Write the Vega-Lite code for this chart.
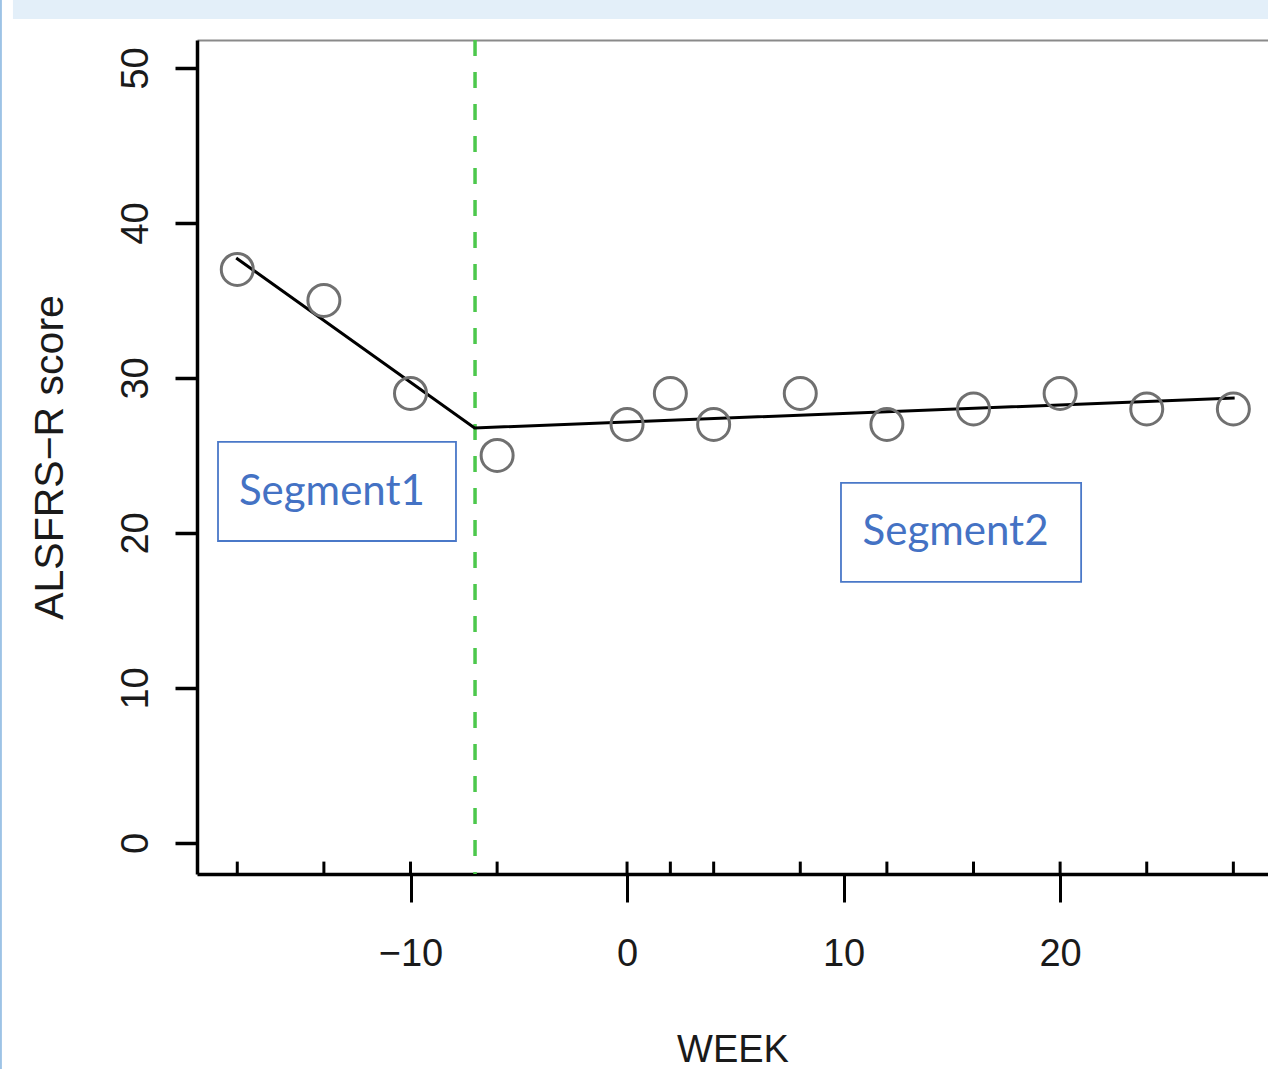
{
  "$schema": "https://vega.github.io/schema/vega-lite/v6.json",
  "width": 1071,
  "height": 834,
  "autosize": {"type": "none"},
  "padding": {"left": 197, "top": 40, "right": 0, "bottom": 195},
  "background": "white",
  "config": {
    "view": {"stroke": null},
    "axis": {
      "labelFont": "Liberation Sans",
      "titleFont": "Liberation Sans",
      "labelFontSize": 38,
      "titleFontSize": 38,
      "labelColor": "#1a1a1a",
      "titleColor": "#1a1a1a",
      "titleFontWeight": "normal",
      "grid": false
    }
  },
  "datasets": {
    "obs": [
      {"week": -18, "score": 37},
      {"week": -14, "score": 35},
      {"week": -10, "score": 29},
      {"week": -6, "score": 25},
      {"week": 0, "score": 27},
      {"week": 2, "score": 29},
      {"week": 4, "score": 27},
      {"week": 8, "score": 29},
      {"week": 12, "score": 27},
      {"week": 16, "score": 28},
      {"week": 20, "score": 29},
      {"week": 24, "score": 28},
      {"week": 28, "score": 28}
    ],
    "fit": [
      {"week": -18.05, "score": 37.74},
      {"week": -7.04, "score": 26.77},
      {"week": 28.06, "score": 28.7}
    ],
    "breaks": [{"breakpoint": -7.02}],
    "boxes": [
      {"label": "Segment1", "x1": -18.89, "x2": -7.9, "y1": 25.87, "y2": 19.48, "xc": -13.63, "yc": 22.65},
      {"label": "Segment2", "x1": 9.88, "x2": 20.97, "y1": 23.23, "y2": 16.84, "xc": 15.17, "yc": 20.06}
    ],
    "frame": [{}]
  },
  "resolve": {"axis": {"x": "independent", "y": "independent"}},
  "layer": [
    {
      "data": {"name": "frame"},
      "mark": {"type": "rect", "color": "#E3EFF9"},
      "encoding": {
        "x": {"datum": -28.36, "type": "quantitative", "scale": {"domain": [-19.86, 29.6], "nice": false, "zero": false}, "axis": null},
        "x2": {"datum": 29.6},
        "y": {"datum": 54.39, "type": "quantitative", "scale": {"domain": [-2, 51.8], "nice": false, "zero": false}, "axis": null},
        "y2": {"datum": 53.16}
      }
    },
    {
      "data": {"name": "frame"},
      "mark": {"type": "rect", "color": "#9DC3E6"},
      "encoding": {
        "x": {"datum": -28.96, "type": "quantitative", "scale": {"domain": [-19.86, 29.6], "nice": false, "zero": false}, "axis": null},
        "x2": {"datum": -28.87},
        "y": {"datum": 54.39, "type": "quantitative", "scale": {"domain": [-2, 51.8], "nice": false, "zero": false}, "axis": null},
        "y2": {"datum": -14.6}
      }
    },
    {
      "data": {"name": "breaks"},
      "mark": {"type": "rule", "color": "#4CC84C", "strokeWidth": 3.5, "strokeDash": [16, 16]},
      "encoding": {
        "x": {"field": "breakpoint", "type": "quantitative", "scale": {"domain": [-19.86, 29.6], "nice": false, "zero": false}, "axis": null}
      }
    },
    {
      "data": {"name": "fit"},
      "mark": {"type": "line", "color": "#000000", "strokeWidth": 3},
      "encoding": {
        "x": {"field": "week", "type": "quantitative", "scale": {"domain": [-19.86, 29.6], "nice": false, "zero": false}, "axis": null},
        "y": {"field": "score", "type": "quantitative", "scale": {"domain": [-2, 51.8], "nice": false, "zero": false}, "axis": null}
      }
    },
    {
      "data": {"name": "obs"},
      "mark": {"type": "point", "shape": "circle", "filled": false, "stroke": "#707070", "strokeWidth": 3, "size": 1024, "opacity": 1},
      "encoding": {
        "x": {
          "field": "week", "type": "quantitative",
          "scale": {"domain": [-19.86, 29.6], "nice": false, "zero": false},
          "axis": {
            "values": [-10, 0, 10, 20],
            "tickSize": 28, "tickWidth": 3, "tickColor": "#000000",
            "domainColor": "#000000", "domainWidth": 3.5,
            "labelPadding": 33, "labelFlush": false, "labelOverlap": false,
            "title": "WEEK", "titlePadding": 58
          }
        },
        "y": {
          "field": "score", "type": "quantitative",
          "scale": {"domain": [-2, 51.8], "nice": false, "zero": false},
          "axis": {
            "values": [0, 10, 20, 30, 40, 50],
            "tickSize": 22, "tickWidth": 3.5, "tickColor": "#000000",
            "domainColor": "#000000", "domainWidth": 3.5,
            "labelAngle": 270, "labelAlign": "center", "labelBaseline": "bottom",
            "labelPadding": 20, "labelFlush": false, "labelOverlap": false,
            "title": "ALSFRS−R score", "titleFontSize": 41, "titlePadding": 46
          }
        }
      }
    },
    {
      "data": {"name": "obs"},
      "mark": {"type": "rule", "color": "#000000", "strokeWidth": 3},
      "encoding": {
        "x": {
          "field": "week", "type": "quantitative",
          "scale": {"domain": [-19.86, 29.6], "nice": false, "zero": false},
          "axis": {"orient": "top", "labels": false, "ticks": false, "title": null, "domainColor": "#8a8a8a", "domainWidth": 2}
        },
        "y": {"datum": -2, "type": "quantitative", "scale": {"domain": [-2, 51.8], "nice": false, "zero": false}, "axis": null},
        "y2": {"datum": -1.2}
      }
    },
    {
      "data": {"name": "boxes"},
      "mark": {"type": "rect", "fillOpacity": 0, "stroke": "#4A78C8", "strokeWidth": 1.8},
      "encoding": {
        "x": {"field": "x1", "type": "quantitative", "scale": {"domain": [-19.86, 29.6], "nice": false, "zero": false}, "axis": null},
        "x2": {"field": "x2"},
        "y": {"field": "y1", "type": "quantitative", "scale": {"domain": [-2, 51.8], "nice": false, "zero": false}, "axis": null},
        "y2": {"field": "y2"}
      }
    },
    {
      "data": {"name": "boxes"},
      "mark": {"type": "text", "font": "Lato", "fontSize": 42, "color": "#4472C4", "align": "center", "baseline": "middle"},
      "encoding": {
        "x": {"field": "xc", "type": "quantitative", "scale": {"domain": [-19.86, 29.6], "nice": false, "zero": false}, "axis": null},
        "y": {"field": "yc", "type": "quantitative", "scale": {"domain": [-2, 51.8], "nice": false, "zero": false}, "axis": null},
        "text": {"field": "label"}
      }
    }
  ]
}
